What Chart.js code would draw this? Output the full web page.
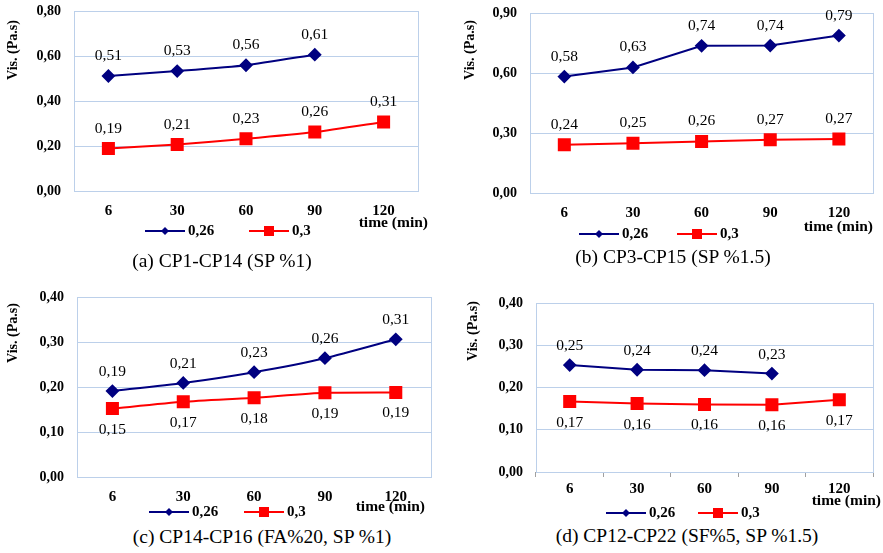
<!DOCTYPE html>
<html>
<head>
<meta charset="utf-8">
<script src="https://cdn.jsdelivr.net/npm/chart.js@4.4.1/dist/chart.umd.min.js"></script>
<style>
  body { margin: 0; background: #fff; width: 883px; height: 553px; position: relative; overflow: hidden; }
  canvas { position: absolute; }
  .cap { position: absolute; font-family: "Liberation Serif", serif; font-size: 19.5px; color: #000;
         white-space: nowrap; transform: translateX(-50%); line-height: 22px; }
</style>
</head>
<body>
<canvas id="ca"></canvas>
<canvas id="cb"></canvas>
<canvas id="cc"></canvas>
<canvas id="cd"></canvas>
<div class="cap" style="left:222px;top:250px">(a) CP1-CP14 (SP %1)</div>
<div class="cap" style="left:673px;top:246px">(b) CP3-CP15 (SP %1.5)</div>
<div class="cap" style="left:262px;top:526px">(c) CP14-CP16 (FA%20, SP %1)</div>
<div class="cap" style="left:687px;top:525px">(d) CP12-CP22 (SF%5, SP %1.5)</div>
<script>
// data
const times = ["6", "30", "60", "90", "120"];
const seriesNames = ["0,26", "0,3"];

const aBlue = [0.511, 0.533, 0.559, 0.606, null];
const aRed = [0.189, 0.207, 0.232, 0.262, 0.307];
const bBlue = [0.582, 0.628, 0.736, 0.737, 0.787];
const bRed = [0.241, 0.249, 0.258, 0.266, 0.27];
const cBlue = [0.191, 0.209, 0.233, 0.264, 0.306];
const cRed = [0.152, 0.167, 0.176, 0.187, 0.188];
const dBlue = [0.253, 0.242, 0.241, 0.233, null];
const dRed = [0.167, 0.162, 0.16, 0.159, 0.171];

const yMaxes = [0.8, 0.9, 0.4, 0.4];
const ySteps = [0.2, 0.3, 0.1, 0.1];

const BLUE = "#000080";
const RED = "#ff0000";
const GRID = "#bcd0ea";
const SERIF = "'Liberation Serif', 'Times New Roman', serif";

const fmt = (v) => v.toFixed(2).replace(".", ",");

// layout of each panel, page coordinates (plot box L/T/R/B, canvas left/width/bottom)
const panels = [
  { id: "ca", ox: 0, W: 441, bottom: 246, L: 74, T: 11, R: 418, B: 191,
    blue: aBlue, red: aRed, yi: 0, tension: 0.2, lab: [-20, -20], ticks: false,
    title: [13, 50], time: [428, 223], leg: [145, 249, 231] },
  { id: "cb", ox: 441, W: 442, bottom: 246, L: 530, T: 13, R: 875, B: 193,
    blue: bBlue, red: bRed, yi: 1, tension: 0, lab: [-20, -20], ticks: false,
    title: [470, 50], time: [873, 227], leg: [579, 677, 234] },
  { id: "cc", ox: 0, W: 441, bottom: 525, L: 77, T: 297, R: 433, B: 477,
    blue: cBlue, red: cRed, yi: 2, tension: 0.2, lab: [-19, 21], ticks: false,
    title: [13, 333], time: [425, 507], leg: [149, 244, 512] },
  { id: "cd", ox: 441, W: 442, bottom: 525, L: 536, T: 303, R: 873, B: 472,
    blue: dBlue, red: dRed, yi: 3, tension: 0, lab: [-19, 21], ticks: true,
    title: [473, 331], time: [881, 501], leg: [606, 698, 513] },
];

function marker(ctx, style, x, y, r) {
  ctx.beginPath();
  if (style === "rectRot") {
    ctx.moveTo(x - r, y); ctx.lineTo(x, y - r); ctx.lineTo(x + r, y); ctx.lineTo(x, y + r);
  } else {
    ctx.rect(x - r, y - r, 2 * r, 2 * r);
  }
  ctx.closePath();
  ctx.fill();
}

const decor = {
  id: "decor",
  beforeDatasetsDraw(chart) {
    const a = chart.chartArea, ctx = chart.ctx;
    ctx.save();
    ctx.strokeStyle = GRID;
    ctx.lineWidth = 1;
    ctx.strokeRect(Math.round(a.left) + 0.5, Math.round(a.top) + 0.5,
      Math.round(a.right - a.left), Math.round(a.bottom - a.top));
    ctx.restore();
  },
  afterDraw(chart, args, o) {
    const p = o.p, ctx = chart.ctx;
    const px = (x) => x - p.ox, py = (y) => y - p.oy;
    ctx.save();
    // value labels
    ctx.font = "15.5px " + SERIF;
    ctx.fillStyle = "#000";
    ctx.textAlign = "center";
    ctx.textBaseline = "middle";
    chart.data.datasets.forEach((ds, i) => {
      chart.getDatasetMeta(i).data.forEach((pt, j) => {
        const v = ds.data[j];
        if (v == null) return;
        ctx.fillText(fmt(v), pt.x, pt.y + p.lab[i]);
      });
    });
    // y axis title
    ctx.font = "bold 14px " + SERIF;
    ctx.save();
    ctx.translate(px(p.title[0]), py(p.title[1]));
    ctx.rotate(-Math.PI / 2);
    ctx.fillText("Vis. (Pa.s)", 0, 0);
    ctx.restore();
    // x axis title
    ctx.font = "bold 15.5px " + SERIF;
    ctx.textAlign = "right";
    ctx.fillText("time (min)", px(p.time[0]), py(p.time[1]));
    // legend
    ctx.font = "bold 15px " + SERIF;
    const y = py(p.leg[2]);
    chart.data.datasets.forEach((ds, i) => {
      const x0 = px(p.leg[i]);
      ctx.strokeStyle = ds.borderColor;
      ctx.fillStyle = ds.borderColor;
      ctx.lineWidth = 2;
      ctx.beginPath();
      ctx.moveTo(x0, y); ctx.lineTo(x0 + 40, y);
      ctx.stroke();
      marker(ctx, ds.pointStyle, x0 + 20, y, i === 0 ? 4 : 5);
      ctx.fillStyle = "#000";
      ctx.textAlign = "left";
      ctx.fillText(ds.label, x0 + 43, y);
    });
    ctx.restore();
  },
};

const TOPPAD = 30;
const XH = 32;

panels.forEach((p) => {
  p.oy = p.T - TOPPAD;
  p.H = p.bottom - p.oy;
  const cv = document.getElementById(p.id);
  cv.width = p.W;
  cv.height = p.H;
  cv.style.left = p.ox + "px";
  cv.style.top = p.oy + "px";
  new Chart(cv.getContext("2d"), {
    type: "line",
    data: {
      labels: times,
      datasets: [
        { label: seriesNames[0], data: p.blue, borderColor: BLUE, backgroundColor: BLUE,
          borderWidth: 2, pointStyle: "rectRot", pointRadius: 5.5, pointHoverRadius: 5.5,
          tension: p.tension },
        { label: seriesNames[1], data: p.red, borderColor: RED, backgroundColor: RED,
          borderWidth: 2, pointStyle: "rect", pointRadius: 7.8, pointHoverRadius: 7.8,
          tension: p.tension },
      ],
    },
    options: {
      responsive: false,
      animation: false,
      events: [],
      layout: {
        padding: { left: 0, top: TOPPAD, right: p.ox + p.W - p.R, bottom: p.oy + p.H - p.B - XH },
      },
      scales: {
        x: {
          offset: true,
          afterFit: (s) => { s.height = XH; },
          border: { display: false },
          grid: {
            display: p.ticks, offset: true, drawOnChartArea: false, drawTicks: true,
            tickLength: 5, color: "#a0a0a0",
          },
          ticks: {
            padding: p.ticks ? 3 : 6,
            color: "#000",
            font: { family: SERIF, size: 15, weight: "bold" },
          },
        },
        y: {
          min: 0,
          max: yMaxes[p.yi],
          afterFit: (s) => { s.width = p.L - p.ox; },
          border: { display: false },
          grid: { color: GRID, drawTicks: false },
          ticks: {
            stepSize: ySteps[p.yi],
            padding: 13,
            color: "#000",
            font: { family: SERIF, size: 14, weight: "bold" },
            callback: (v) => fmt(v),
          },
        },
      },
      plugins: {
        legend: { display: false },
        tooltip: { enabled: false },
        decor: { p },
      },
    },
    plugins: [decor],
  });
});
</script>
</body>
</html>
